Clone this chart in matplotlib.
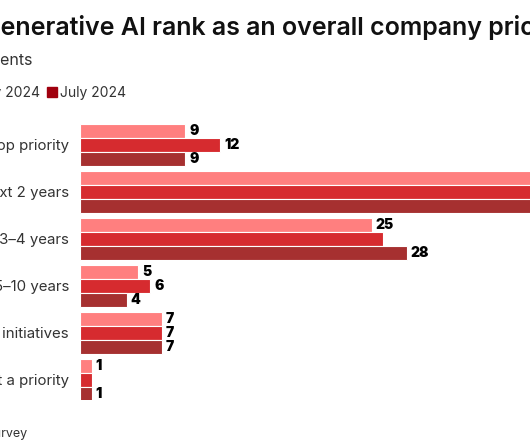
import numpy as np
import matplotlib.pyplot as plt
from matplotlib.patches import Rectangle

# Datos del gráfico
categories = ["Top priority",
              "Top priority in the next 2 years",
              "Priority in the next 3–4 years",
              "Priority in the next 5–10 years",
              "Lower priority than other initiatives",
              "Not a priority"]
series = ["February 2024", "May 2024", "July 2024"]
feb_2024 = [9, 53, 25, 5, 7, 1]
may_2024 = [12, 48, 26, 6, 7, 1]
jul_2024 = [9, 51, 28, 4, 7, 1]
# etiquetas que se ven en la imagen (None = no se ve)
feb_labels = ["9", None, "25", "5", "7", "1"]
may_labels = ["12", None, None, "6", "7", None]
jul_labels = ["9", None, "28", "4", "7", "1"]

values = [feb_2024, may_2024, jul_2024]
labels = [feb_labels, may_labels, jul_labels]
colors = ["#FF7F7F", "#D62B2F", "#A63030"]
legend_colors = ["#FF7F7F", "#D62B2F", "#A0000E"]

W, H = 530, 442
fig = plt.figure(figsize=(W / 100, H / 100), dpi=100)
font = ["Inter", "DejaVu Sans"]

# ejes: izquierda en x=80px, 11.67 px por unidad
px_per_unit = 11.67
ax = fig.add_axes([80 / W, 1 - 400 / H, (W - 80) / W, 280 / H])
ax.set_xlim(0, (W - 80) / px_per_unit)
ax.set_ylim(5.434, -0.523)

bar_h = 14 / 47
y = np.arange(len(categories))
for j, (vals, labs) in enumerate(zip(values, labels)):
    ypos = y + (j - 1) * bar_h
    ax.barh(ypos, vals, height=bar_h, color=colors[j], edgecolor="white", linewidth=0.8)
    for yy, v, lab in zip(ypos, vals, labs):
        if lab is not None:
            ax.text(v + 4 / px_per_unit, yy, lab, va="center", ha="left",
                    fontsize=10, fontweight="black", family=font, color="black")

ax.set_yticks(y)
ax.set_yticklabels(categories, fontsize=10.8, color="#333333", family=font)
ax.tick_params(axis="y", length=0, pad=8)
ax.set_xticks([])
for s in ax.spines.values():
    s.set_visible(False)

fig.canvas.draw()
renderer = fig.canvas.get_renderer()

def text_width(s, **kw):
    t = fig.text(0, 0, s, **kw)
    w = t.get_window_extent(renderer).width
    t.remove()
    return w

# título (recortado a la izquierda como en la imagen)
title_kw = dict(fontsize=18, fontweight="semibold", family=font, color="#111111")
w_pre = text_width("How does g", **title_kw)
fig.text(-w_pre / W, 1 - 35 / H, "How does generative AI rank as an overall company priority?",
         ha="left", va="baseline", **title_kw)

fig.text(32 / W, 1 - 65 / H, "% of respondents", ha="right", va="baseline",
         fontsize=11.5, family=font, color="#333333")

# leyenda manual
leg_kw = dict(fontsize=10, family=font, color="#333333")
base = 1 - 97 / H
x = 40
for k in [1, 0]:
    fig.text(x / W, base, series[k], ha="right", va="baseline", **leg_kw)
    x -= text_width(series[k], **leg_kw) + 3
    fig.patches.append(Rectangle(((x - 10) / W, 1 - 97 / H), 10 / W, 10 / H,
                                 transform=fig.transFigure, color=legend_colors[k]))
    x -= 18
fig.patches.append(Rectangle((47 / W, 1 - 97 / H), 10 / W, 10 / H,
                             transform=fig.transFigure, color=legend_colors[2]))
fig.text(60 / W, base, series[2], ha="left", va="baseline", **leg_kw)

fig.text(27 / W, 1 - 437 / H, "Source: Business Insider survey", ha="right", va="baseline",
         fontsize=9, family=font, color="#333333")

fig.savefig("out.png", dpi=100)
